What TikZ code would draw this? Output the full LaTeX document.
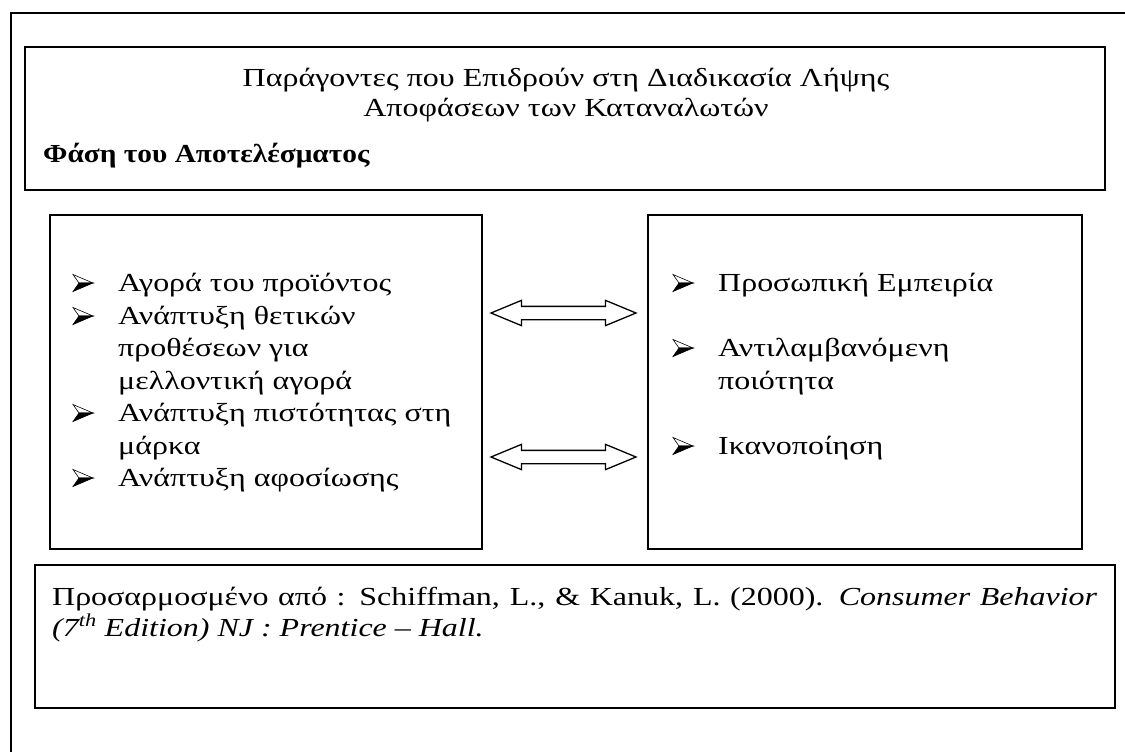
\documentclass[tikz,border=0pt]{standalone}
\usepackage{fontspec}
\setmainfont[FakeStretch=1.23]{Liberation Serif}
\newfontfamily\boldgr[FakeStretch=1.13]{Liberation Serif}
\usetikzlibrary{shapes.arrows}
\tikzset{
  box/.style={draw, line width=1.3pt, rectangle, inner sep=0pt},
  txt/.style={font=\fontsize{26pt}{31pt}\selectfont, inner sep=0pt},
  dblarrow/.style={draw, line width=1.3pt, double arrow, inner xsep=0pt, inner ysep=6pt,
    minimum height=145pt, double arrow head extend=6pt,
    double arrow head indent=0pt, double arrow tip angle=45},
  bulletpic/.pic={
    \filldraw[fill=white, line width=0.6pt] (-10,-8.5) -- (10,0) -- (-4,0) -- cycle;
    \filldraw[fill=black, line width=0.6pt] (-4,0) -- (10,0) -- (-10,8.5) -- cycle;
  }
}
\begin{document}
\begin{tikzpicture}[x=1pt,y=-1pt]
\useasboundingbox (0,0) rectangle (1125,752);
% outer frame (cut at right and bottom)
\coordinate (oa) at (11,752);
\coordinate (ob) at (11,13);
\coordinate (oc) at (1125,13);
\draw[line width=2pt] (oa) -- (ob) -- (oc);
% boxes
\node[box, minimum width=1080pt, minimum height=143pt] (head) at (565,118.5) {};
\node[box, minimum width=432pt, minimum height=334pt] (left) at (266,382) {};
\node[box, minimum width=434pt, minimum height=334pt] (right) at (865,382) {};
\node[box, minimum width=1080pt, minimum height=143pt] (src) at (575,636.5) {};
% header text
\node[txt, anchor=base] (t1) at (566,86) {Παράγοντες που Επιδρούν στη Διαδικασία Λήψης};
\node[txt, anchor=base] (t2) at (566,116) {Αποφάσεων των Καταναλωτών};
\node[txt, anchor=base west, font=\fontsize{26pt}{30pt}\selectfont\boldgr\bfseries] (t3) at (43,162) {Φάση του Αποτελέσματος};
% left list
\node[txt, anchor=base west] (l1) at (118,291) {Αγορά του προϊόντος};
\node[txt, anchor=base west] (l2) at (118,324) {Ανάπτυξη θετικών};
\node[txt, anchor=base west] (l3) at (118,356) {προθέσεων για};
\node[txt, anchor=base west] (l4) at (118,389) {μελλοντική αγορά};
\node[txt, anchor=base west] (l5) at (118,421) {Ανάπτυξη πιστότητας στη};
\node[txt, anchor=base west] (l6) at (118,454) {μάρκα};
\node[txt, anchor=base west] (l7) at (118,486) {Ανάπτυξη αφοσίωσης};
\pic at (83,283) {bulletpic};
\pic at (83,316) {bulletpic};
\pic at (83,413) {bulletpic};
\pic at (83,478) {bulletpic};
% right list
\node[txt, anchor=base west] (r1) at (718,291) {Προσωπική Εμπειρία};
\node[txt, anchor=base west] (r2) at (718,356) {Αντιλαμβανόμενη};
\node[txt, anchor=base west] (r3) at (718,389) {ποιότητα};
\node[txt, anchor=base west] (r4) at (718,454) {Ικανοποίηση};
\pic at (683,283) {bulletpic};
\pic at (683,348) {bulletpic};
\pic at (683,446) {bulletpic};
% double arrows
\node[dblarrow] (a1) at (563.5,313) {};
\node[dblarrow] (a2) at (563.5,457) {};
% source text
\node[txt, anchor=base west, text width=1045pt, align=justify] (s1) at (52,605)
  {Προσαρμοσμένο από : Schiffman, L., \& Kanuk, L. (2000). \textit{Consumer Behavior}\linebreak
   \textit{(7\textsuperscript{th} Edition) NJ : Prentice – Hall.}};
\end{tikzpicture}
\end{document}
